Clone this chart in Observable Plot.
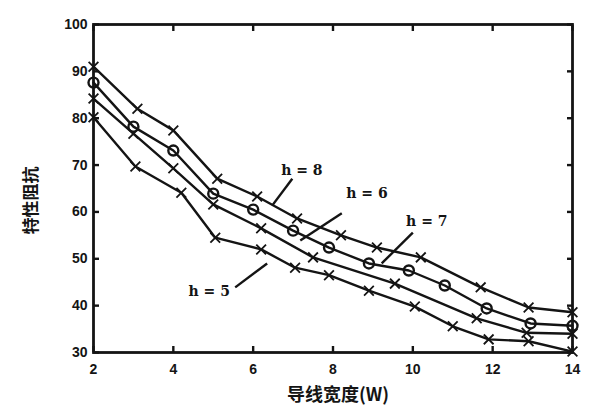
<!DOCTYPE html>
<html><head><meta charset="utf-8">
<script src="https://cdn.jsdelivr.net/npm/d3@7"></script>
<script src="https://cdn.jsdelivr.net/npm/@observablehq/plot@0.6"></script>
<style>body{margin:0;background:#fff}#c{width:600px;height:411px}</style>
</head><body><div id="c"></div>
<script>
// series: h = 8 (top, x markers)
const h8W = [2, 3.1, 4, 5.1, 6.1, 7.1, 8.2, 9.1, 10.2, 11.7, 12.9, 14];
const h8Z = [91, 82, 77.4, 67.1, 63.3, 58.6, 55.0, 52.4, 50.3, 43.9, 39.6, 38.6];
// h = 7 (circles)
const h7W = [2, 3, 4, 5, 6, 7, 7.9, 8.9, 9.9, 10.8, 11.85, 12.95, 14];
const h7Z = [87.6, 78.2, 73.1, 63.9, 60.5, 56.0, 52.4, 49.0, 47.5, 44.3, 39.4, 36.2, 35.7];
// h = 6 (x markers)
const h6W = [2, 3, 4, 5, 6.2, 7.5, 9.55, 11.6, 12.85, 14];
const h6Z = [84.2, 76.7, 69.3, 61.6, 56.5, 50.3, 44.7, 37.3, 34.2, 34.0];
// h = 5 (bottom, x markers)
const h5W = [2, 3.05, 4.2, 5.05, 6.2, 7.05, 7.9, 8.9, 10.05, 11, 11.9, 12.9, 14];
const h5Z = [80.2, 69.7, 64.1, 54.5, 52.0, 48.1, 46.5, 43.2, 39.8, 35.6, 32.8, 32.4, 30.2];

const xTicks = [2, 4, 6, 8, 10, 12, 14];
const yTicks = [30, 40, 50, 60, 70, 80, 90, 100];
const xLabel = "导线宽度(W)";
const yLabel = "特性阻抗";

// annotation labels and leader lines
const labelText = ["h = 8", "h = 6", "h = 7", "h = 5"];
const labelW = [7.22, 8.85, 10.35, 4.9];
const labelZ = [68.8, 63.9, 58.0, 43.0];
const leadW1 = [6.98, 8.22, 10.0, 5.55];
const leadZ1 = [67.1, 59.7, 55.6, 43.9];
const leadW2 = [6.48, 7.18, 9.22, 6.35];
const leadZ2 = [61.4, 53.9, 49.0, 49.0];

const series = [
  {name: "h = 8", w: h8W, z: h8Z, marker: "times"},
  {name: "h = 7", w: h7W, z: h7Z, marker: "circle"},
  {name: "h = 6", w: h6W, z: h6Z, marker: "times"},
  {name: "h = 5", w: h5W, z: h5Z, marker: "times"}
];
const rows = series.flatMap(s => s.w.map((w, i) => ({h: s.name, w, z: s.z[i], marker: s.marker})));
const labels = labelText.map((t, i) => ({t, x: labelW[i], y: labelZ[i], x1: leadW1[i], y1: leadZ1[i], x2: leadW2[i], y2: leadZ2[i]}));

const ink = "#141414";
const chart = Plot.plot({
  width: 600, height: 411,
  marginLeft: 93, marginRight: 28, marginTop: 24, marginBottom: 59,
  x: {domain: [2, 14]},
  y: {domain: [30, 100]},
  style: {background: "#fff", fontFamily: "DejaVu Sans", color: ink},
  marks: [
    Plot.line(rows, {x: "w", y: "z", z: "h", stroke: ink, strokeWidth: 2.4, strokeLinejoin: "round"}),
    Plot.dot(rows.filter(d => d.marker === "times"), {x: "w", y: "z", symbol: "times", r: 4.5, stroke: ink, strokeWidth: 1.8}),
    Plot.dot(rows.filter(d => d.marker === "circle"), {x: "w", y: "z", symbol: "circle", r: 5, stroke: ink, strokeWidth: 2.4, fill: "none"}),
    Plot.link(labels, {x1: "x1", y1: "y1", x2: "x2", y2: "y2", stroke: ink, strokeWidth: 2.4}),
    Plot.text(labels, {x: "x", y: "y", text: "t", fontSize: 14, fontWeight: "bold", fontFamily: "DejaVu Serif", fill: ink}),
    Plot.axisX({anchor: "bottom", ticks: xTicks, tickSize: -6, tickPadding: 18, fontSize: 14, fontWeight: "bold", fontFamily: "Liberation Sans", strokeWidth: 2.4, label: null}),
    Plot.axisX({anchor: "top", ticks: xTicks, tickSize: -6, tickFormat: () => "", strokeWidth: 2.4, label: null}),
    Plot.axisY({anchor: "left", ticks: yTicks, tickSize: -6, tickPadding: 12, fontSize: 14, fontWeight: "bold", fontFamily: "Liberation Sans", strokeWidth: 2.4, label: null}),
    Plot.axisY({anchor: "right", ticks: yTicks, tickSize: -6, tickFormat: () => "", strokeWidth: 2.4, label: null}),
    Plot.frame({stroke: ink, strokeWidth: 2.8}),
    Plot.text([xLabel], {frameAnchor: "bottom", dx: 5, dy: 48, text: d => d, fontSize: 18, fontWeight: "bold", fontFamily: "Noto Sans CJK SC", fill: ink}),
    Plot.text([yLabel], {frameAnchor: "left", dx: -62, dy: 46, rotate: -90, text: d => d, fontSize: 17, fontWeight: "bold", fontFamily: "Noto Sans CJK SC", fill: ink})
  ]
});
document.getElementById("c").appendChild(chart);
</script>
</body></html>
